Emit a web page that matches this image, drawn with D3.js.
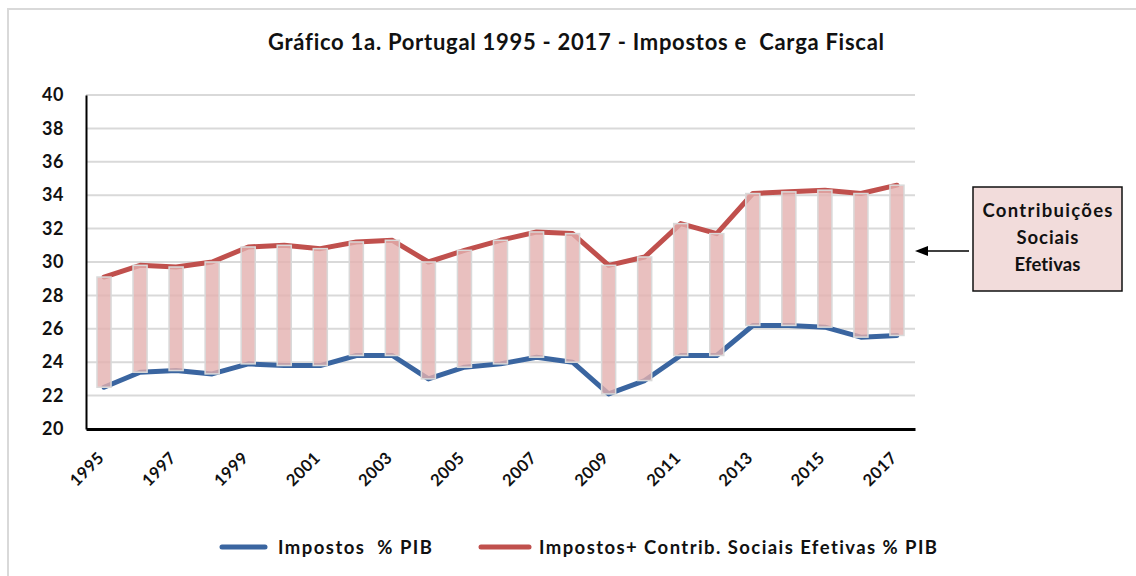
<!DOCTYPE html>
<html>
<head>
<meta charset="utf-8">
<script src="https://cdn.jsdelivr.net/npm/d3@7"></script>
<style>
  html, body { margin: 0; padding: 0; background: #ffffff; }
  svg { display: block; font-family: Lato, "Open Sans", sans-serif; font-variant-ligatures: none; }
</style>
</head>
<body>
<svg id="chart" width="1136" height="576"></svg>
<script>
// Anos da série
const years = ["1995","1996","1997","1998","1999","2000","2001","2002","2003","2004","2005",
               "2006","2007","2008","2009","2010","2011","2012","2013","2014","2015","2016","2017"];
// Impostos em % do PIB
const impostos = [22.5,23.4,23.5,23.3,23.9,23.8,23.8,24.4,24.4,23.0,23.7,
                  23.9,24.3,24.0,22.1,22.9,24.4,24.4,26.2,26.2,26.1,25.5,25.6];
// Impostos + contribuições sociais efetivas em % do PIB (carga fiscal)
const cargaFiscal = [29.1,29.8,29.7,30.0,30.9,31.0,30.8,31.2,31.3,30.0,30.7,
                     31.3,31.8,31.7,29.8,30.3,32.3,31.7,34.1,34.2,34.3,34.1,34.6];
// Etiquetas do eixo vertical e do eixo horizontal
const yTicks = [20,22,24,26,28,30,32,34,36,38,40];
const xTickLabels = years.filter((d, i) => i % 2 === 0);

const titleText = "Gráfico 1a. Portugal 1995 - 2017 - Impostos e  Carga Fiscal";
const legendLabels = ["Impostos  % PIB", "Impostos+ Contrib. Sociais Efetivas % PIB"];
const noteLines = ["Contribuições", "Sociais", "Efetivas"];

const colBlue = "#3a65a0";
const colRed = "#c0504d";

const svg = d3.select("#chart");
const plot = { left: 86, right: 915, top: 95, bottom: 429 };

// moldura exterior
svg.append("rect")
  .attr("x", 8).attr("y", 9).attr("width", 1150).attr("height", 600)
  .attr("fill", "#fff").attr("stroke", "#d9d9d9").attr("stroke-width", 2);

// título
svg.append("text")
  .attr("x", 576).attr("y", 50)
  .attr("text-anchor", "middle")
  .attr("font-size", 22).attr("font-weight", 700).attr("fill", "#111")
  .attr("textLength", 616).attr("lengthAdjust", "spacing")
  .attr("xml:space", "preserve")
  .text(titleText);

const x = d3.scaleBand().domain(years).range([plot.left, plot.right]).padding(0);
const y = d3.scaleLinear().domain([20, 40]).range([plot.bottom, plot.top]);
const cx = d => x(d) + x.bandwidth() / 2;
const barW = x.bandwidth() * 0.39;

// grelha horizontal
svg.append("g")
  .selectAll("line")
  .data(yTicks.filter(t => t > 20))
  .join("line")
  .attr("x1", plot.left).attr("x2", plot.right)
  .attr("y1", d => y(d)).attr("y2", d => y(d))
  .attr("stroke", "#d9d9d9").attr("stroke-width", 2);

// linhas das duas séries
const line = d3.line().x(d => cx(d[0])).y(d => y(d[1]));
svg.append("path")
  .datum(years.map((yr, i) => [yr, impostos[i]]))
  .attr("d", line)
  .attr("fill", "none").attr("stroke", colBlue).attr("stroke-width", 5)
  .attr("stroke-linejoin", "round").attr("stroke-linecap", "round");
svg.append("path")
  .datum(years.map((yr, i) => [yr, cargaFiscal[i]]))
  .attr("d", line)
  .attr("fill", "none").attr("stroke", colRed).attr("stroke-width", 5)
  .attr("stroke-linejoin", "round").attr("stroke-linecap", "round");

// barras de amplitude: contribuições sociais efetivas
svg.append("g")
  .selectAll("rect")
  .data(years)
  .join("rect")
  .attr("x", d => cx(d) - barW / 2)
  .attr("width", barW)
  .attr("y", (d, i) => y(cargaFiscal[i]))
  .attr("height", (d, i) => y(impostos[i]) - y(cargaFiscal[i]))
  .attr("fill", "#e3b0af").attr("fill-opacity", 0.8)
  .attr("stroke", "#d9d9d9").attr("stroke-width", 1.5);

// eixo vertical
const yAxis = svg.append("g")
  .attr("transform", `translate(${plot.left},0)`)
  .call(d3.axisLeft(y).tickValues(yTicks).tickSize(0).tickPadding(22).tickFormat(d3.format("d")));
yAxis.select(".domain").attr("stroke", "#000").attr("stroke-width", 2);
yAxis.selectAll("text")
  .attr("font-family", "Lato, sans-serif")
  .attr("font-size", 18).attr("font-weight", 700).attr("fill", "#111")
  .attr("letter-spacing", 0.6);

// eixo horizontal
const xAxis = svg.append("g")
  .attr("transform", `translate(0,${plot.bottom})`)
  .call(d3.axisBottom(x).tickValues(xTickLabels).tickSize(0).tickSizeOuter(0));
xAxis.select(".domain").attr("stroke", "#000").attr("stroke-width", 3);
xAxis.selectAll("text")
  .attr("font-family", "Lato, sans-serif")
  .attr("font-size", 16.5).attr("font-weight", 700).attr("fill", "#111")
  .attr("letter-spacing", 0.4)
  .attr("text-anchor", "end")
  .attr("dy", null)
  .attr("y", 0)
  .attr("transform", "translate(1,30) rotate(-45)");

// caixa de anotação com seta
svg.append("rect")
  .attr("x", 973).attr("y", 187).attr("width", 149).attr("height", 104)
  .attr("fill", "#f2dcdb").attr("stroke", "#111").attr("stroke-width", 1.5);
const noteWidths = [130, 62, 66];
svg.append("g")
  .selectAll("text")
  .data(noteLines)
  .join("text")
  .attr("x", 1047.5).attr("y", (d, i) => 217 + i * 27)
  .attr("text-anchor", "middle")
  .attr("font-size", 18.5).attr("font-weight", 700).attr("fill", "#111")
  .attr("textLength", (d, i) => noteWidths[i]).attr("lengthAdjust", "spacing")
  .text(d => d);
svg.append("line")
  .attr("x1", 969).attr("x2", 926).attr("y1", 251).attr("y2", 251)
  .attr("stroke", "#000").attr("stroke-width", 1.5);
svg.append("path")
  .attr("d", "M915,251 L928,246 L928,256 Z")
  .attr("fill", "#000");

// legenda
const legend = [
  { x1: 222, x2: 265, tx: 278, w: 154, color: colBlue, label: legendLabels[0] },
  { x1: 481, x2: 529, tx: 539, w: 398, color: colRed, label: legendLabels[1] }
];
const lg = svg.append("g");
legend.forEach(l => {
  lg.append("line")
    .attr("x1", l.x1).attr("x2", l.x2).attr("y1", 547).attr("y2", 547)
    .attr("stroke", l.color).attr("stroke-width", 5).attr("stroke-linecap", "round");
  lg.append("text")
    .attr("x", l.tx).attr("y", 554)
    .attr("font-size", 18.5).attr("font-weight", 700).attr("fill", "#111")
    .attr("textLength", l.w).attr("lengthAdjust", "spacing")
    .attr("xml:space", "preserve")
    .text(l.label);
});
</script>
</body>
</html>
